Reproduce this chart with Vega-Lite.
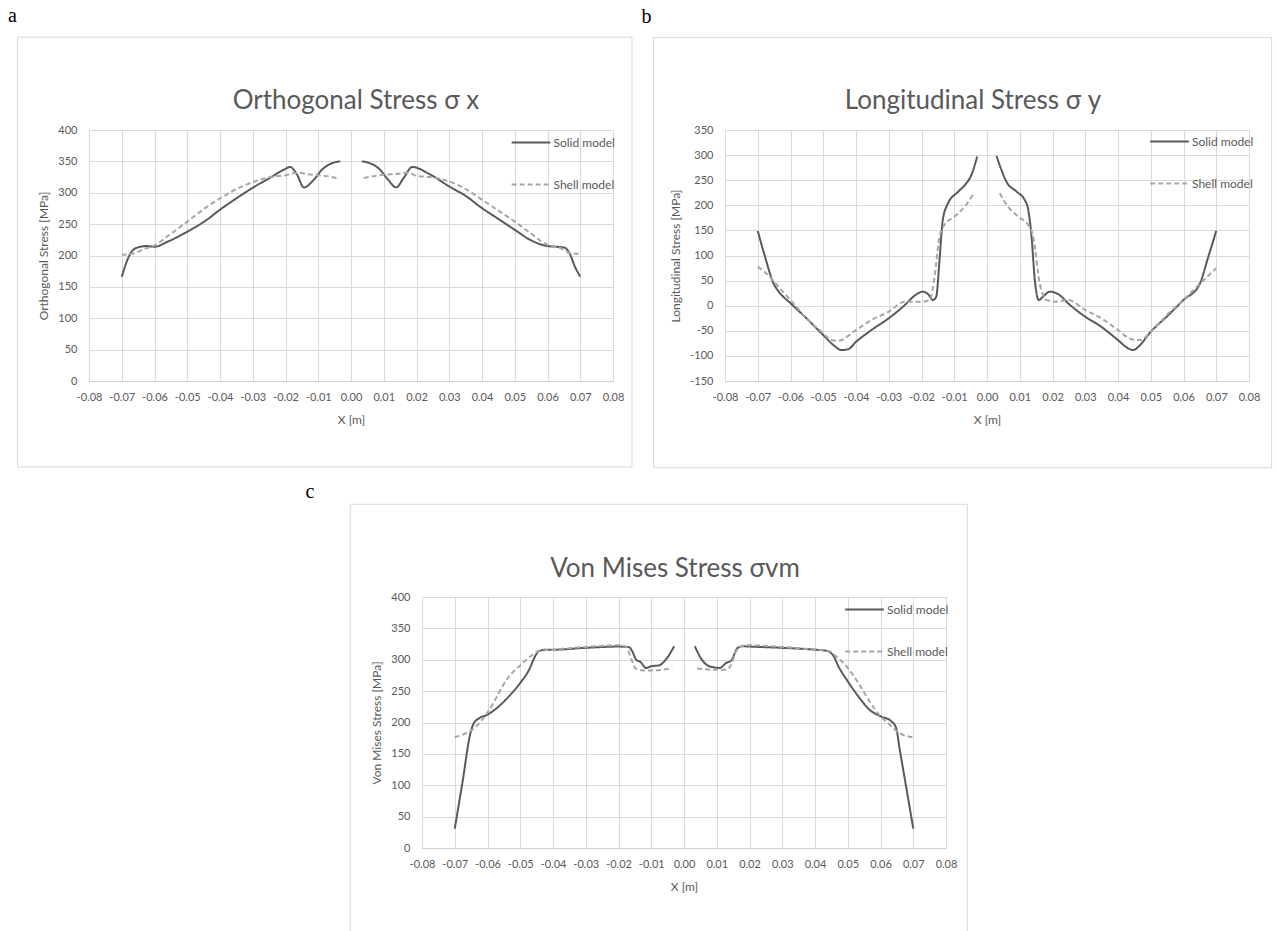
{
  "$schema": "https://vega.github.io/schema/vega-lite/v6.json",
  "background": "white",
  "padding": {"left": 8, "top": 6, "right": 0, "bottom": 0},
  "datasets": {
    "sx": [
      {"m": "Solid model", "s": "L", "x": -0.07, "y": 166}, {"m": "Solid model", "s": "L", "x": -0.0685, "y": 190}, {"m": "Solid model", "s": "L", "x": -0.067, "y": 206}, {"m": "Solid model", "s": "L", "x": -0.065, "y": 213}, {"m": "Solid model", "s": "L", "x": -0.0625, "y": 215}, {"m": "Solid model", "s": "L", "x": -0.06, "y": 214}, {"m": "Solid model", "s": "L", "x": -0.056, "y": 222}, {"m": "Solid model", "s": "L", "x": -0.05, "y": 238}, {"m": "Solid model", "s": "L", "x": -0.044, "y": 257}, {"m": "Solid model", "s": "L", "x": -0.04, "y": 273}, {"m": "Solid model", "s": "L", "x": -0.035, "y": 291}, {"m": "Solid model", "s": "L", "x": -0.03, "y": 308}, {"m": "Solid model", "s": "L", "x": -0.025, "y": 323}, {"m": "Solid model", "s": "L", "x": -0.02, "y": 338}, {"m": "Solid model", "s": "L", "x": -0.0186, "y": 341}, {"m": "Solid model", "s": "L", "x": -0.0165, "y": 329}, {"m": "Solid model", "s": "L", "x": -0.0144, "y": 308.5}, {"m": "Solid model", "s": "L", "x": -0.0113, "y": 321}, {"m": "Solid model", "s": "L", "x": -0.0088, "y": 337}, {"m": "Solid model", "s": "L", "x": -0.0053, "y": 348}, {"m": "Solid model", "s": "L", "x": -0.0033, "y": 350},
      {"m": "Solid model", "s": "R", "x": 0.0033, "y": 350}, {"m": "Solid model", "s": "R", "x": 0.0053, "y": 348}, {"m": "Solid model", "s": "R", "x": 0.0088, "y": 337}, {"m": "Solid model", "s": "R", "x": 0.0113, "y": 321}, {"m": "Solid model", "s": "R", "x": 0.0138, "y": 308.5}, {"m": "Solid model", "s": "R", "x": 0.016, "y": 323}, {"m": "Solid model", "s": "R", "x": 0.0187, "y": 341}, {"m": "Solid model", "s": "R", "x": 0.0242, "y": 329}, {"m": "Solid model", "s": "R", "x": 0.03, "y": 310}, {"m": "Solid model", "s": "R", "x": 0.0353, "y": 294}, {"m": "Solid model", "s": "R", "x": 0.04, "y": 275.5}, {"m": "Solid model", "s": "R", "x": 0.0446, "y": 259.6}, {"m": "Solid model", "s": "R", "x": 0.05, "y": 241}, {"m": "Solid model", "s": "R", "x": 0.0547, "y": 225}, {"m": "Solid model", "s": "R", "x": 0.06, "y": 215}, {"m": "Solid model", "s": "R", "x": 0.0625, "y": 214}, {"m": "Solid model", "s": "R", "x": 0.065, "y": 212.8}, {"m": "Solid model", "s": "R", "x": 0.0667, "y": 204}, {"m": "Solid model", "s": "R", "x": 0.0684, "y": 182}, {"m": "Solid model", "s": "R", "x": 0.07, "y": 166.5},
      {"m": "Shell model", "s": "L", "x": -0.07, "y": 201}, {"m": "Shell model", "s": "L", "x": -0.0665, "y": 203}, {"m": "Shell model", "s": "L", "x": -0.0634, "y": 210}, {"m": "Shell model", "s": "L", "x": -0.06, "y": 216}, {"m": "Shell model", "s": "L", "x": -0.0562, "y": 230}, {"m": "Shell model", "s": "L", "x": -0.05, "y": 254}, {"m": "Shell model", "s": "L", "x": -0.0441, "y": 277}, {"m": "Shell model", "s": "L", "x": -0.04, "y": 291}, {"m": "Shell model", "s": "L", "x": -0.0349, "y": 306}, {"m": "Shell model", "s": "L", "x": -0.03, "y": 317}, {"m": "Shell model", "s": "L", "x": -0.0247, "y": 325}, {"m": "Shell model", "s": "L", "x": -0.02, "y": 328}, {"m": "Shell model", "s": "L", "x": -0.0165, "y": 332}, {"m": "Shell model", "s": "L", "x": -0.0125, "y": 329}, {"m": "Shell model", "s": "L", "x": -0.01, "y": 328}, {"m": "Shell model", "s": "L", "x": -0.0073, "y": 326.5}, {"m": "Shell model", "s": "L", "x": -0.0043, "y": 323.4},
      {"m": "Shell model", "s": "R", "x": 0.0039, "y": 323.4}, {"m": "Shell model", "s": "R", "x": 0.007, "y": 326.5}, {"m": "Shell model", "s": "R", "x": 0.01, "y": 328.5}, {"m": "Shell model", "s": "R", "x": 0.0141, "y": 330}, {"m": "Shell model", "s": "R", "x": 0.0175, "y": 332}, {"m": "Shell model", "s": "R", "x": 0.02, "y": 327}, {"m": "Shell model", "s": "R", "x": 0.0243, "y": 325}, {"m": "Shell model", "s": "R", "x": 0.03, "y": 318}, {"m": "Shell model", "s": "R", "x": 0.0353, "y": 305}, {"m": "Shell model", "s": "R", "x": 0.04, "y": 289}, {"m": "Shell model", "s": "R", "x": 0.0446, "y": 273}, {"m": "Shell model", "s": "R", "x": 0.05, "y": 254}, {"m": "Shell model", "s": "R", "x": 0.0547, "y": 236}, {"m": "Shell model", "s": "R", "x": 0.06, "y": 217}, {"m": "Shell model", "s": "R", "x": 0.0639, "y": 212}, {"m": "Shell model", "s": "R", "x": 0.0669, "y": 204}, {"m": "Shell model", "s": "R", "x": 0.07, "y": 202.7}
    ],
    "sy": [
      {"m": "Solid model", "s": "L", "x": -0.07, "y": 149}, {"m": "Solid model", "s": "L", "x": -0.0678, "y": 98}, {"m": "Solid model", "s": "L", "x": -0.0652, "y": 44.5}, {"m": "Solid model", "s": "L", "x": -0.0637, "y": 29}, {"m": "Solid model", "s": "L", "x": -0.06, "y": 5}, {"m": "Solid model", "s": "L", "x": -0.0556, "y": -22}, {"m": "Solid model", "s": "L", "x": -0.05, "y": -58.5}, {"m": "Solid model", "s": "L", "x": -0.0466, "y": -80}, {"m": "Solid model", "s": "L", "x": -0.0445, "y": -88.4}, {"m": "Solid model", "s": "L", "x": -0.0425, "y": -87}, {"m": "Solid model", "s": "L", "x": -0.04, "y": -72}, {"m": "Solid model", "s": "L", "x": -0.0353, "y": -48.5}, {"m": "Solid model", "s": "L", "x": -0.03, "y": -25}, {"m": "Solid model", "s": "L", "x": -0.0251, "y": 1.3}, {"m": "Solid model", "s": "L", "x": -0.0221, "y": 20}, {"m": "Solid model", "s": "L", "x": -0.0195, "y": 28}, {"m": "Solid model", "s": "L", "x": -0.018, "y": 23}, {"m": "Solid model", "s": "L", "x": -0.0165, "y": 11.3}, {"m": "Solid model", "s": "L", "x": -0.0155, "y": 18}, {"m": "Solid model", "s": "L", "x": -0.0145, "y": 91}, {"m": "Solid model", "s": "L", "x": -0.0135, "y": 171}, {"m": "Solid model", "s": "L", "x": -0.0119, "y": 204}, {"m": "Solid model", "s": "L", "x": -0.0088, "y": 227}, {"m": "Solid model", "s": "L", "x": -0.0063, "y": 244}, {"m": "Solid model", "s": "L", "x": -0.005, "y": 257}, {"m": "Solid model", "s": "L", "x": -0.003, "y": 297},
      {"m": "Solid model", "s": "R", "x": 0.0029, "y": 298.5}, {"m": "Solid model", "s": "R", "x": 0.0044, "y": 270.6}, {"m": "Solid model", "s": "R", "x": 0.0059, "y": 247.3}, {"m": "Solid model", "s": "R", "x": 0.009, "y": 227.4}, {"m": "Solid model", "s": "R", "x": 0.0115, "y": 210.8}, {"m": "Solid model", "s": "R", "x": 0.0126, "y": 190.8}, {"m": "Solid model", "s": "R", "x": 0.0136, "y": 137.6}, {"m": "Solid model", "s": "R", "x": 0.0146, "y": 51}, {"m": "Solid model", "s": "R", "x": 0.0158, "y": 11.3}, {"m": "Solid model", "s": "R", "x": 0.0171, "y": 18}, {"m": "Solid model", "s": "R", "x": 0.0192, "y": 28}, {"m": "Solid model", "s": "R", "x": 0.0222, "y": 21}, {"m": "Solid model", "s": "R", "x": 0.0248, "y": 4.7}, {"m": "Solid model", "s": "R", "x": 0.03, "y": -22}, {"m": "Solid model", "s": "R", "x": 0.0349, "y": -42}, {"m": "Solid model", "s": "R", "x": 0.04, "y": -68.5}, {"m": "Solid model", "s": "R", "x": 0.0431, "y": -85}, {"m": "Solid model", "s": "R", "x": 0.0447, "y": -88.4}, {"m": "Solid model", "s": "R", "x": 0.0462, "y": -81.8}, {"m": "Solid model", "s": "R", "x": 0.05, "y": -51.9}, {"m": "Solid model", "s": "R", "x": 0.0554, "y": -18.6}, {"m": "Solid model", "s": "R", "x": 0.06, "y": 11.3}, {"m": "Solid model", "s": "R", "x": 0.0648, "y": 41.2}, {"m": "Solid model", "s": "R", "x": 0.0676, "y": 98}, {"m": "Solid model", "s": "R", "x": 0.07, "y": 149},
      {"m": "Shell model", "s": "L", "x": -0.07, "y": 77.8}, {"m": "Shell model", "s": "L", "x": -0.0668, "y": 61}, {"m": "Shell model", "s": "L", "x": -0.0637, "y": 38}, {"m": "Shell model", "s": "L", "x": -0.06, "y": 11.3}, {"m": "Shell model", "s": "L", "x": -0.0546, "y": -28.6}, {"m": "Shell model", "s": "L", "x": -0.05, "y": -55}, {"m": "Shell model", "s": "L", "x": -0.0476, "y": -68.5}, {"m": "Shell model", "s": "L", "x": -0.0455, "y": -70}, {"m": "Shell model", "s": "L", "x": -0.04, "y": -48.5}, {"m": "Shell model", "s": "L", "x": -0.0353, "y": -28.6}, {"m": "Shell model", "s": "L", "x": -0.03, "y": -12}, {"m": "Shell model", "s": "L", "x": -0.0251, "y": 8}, {"m": "Shell model", "s": "L", "x": -0.02, "y": 8}, {"m": "Shell model", "s": "L", "x": -0.0175, "y": 11.3}, {"m": "Shell model", "s": "L", "x": -0.016, "y": 58}, {"m": "Shell model", "s": "L", "x": -0.0145, "y": 137.6}, {"m": "Shell model", "s": "L", "x": -0.013, "y": 161}, {"m": "Shell model", "s": "L", "x": -0.0099, "y": 177.5}, {"m": "Shell model", "s": "L", "x": -0.0068, "y": 197.5}, {"m": "Shell model", "s": "L", "x": -0.0041, "y": 222.7},
      {"m": "Shell model", "s": "R", "x": 0.0039, "y": 224}, {"m": "Shell model", "s": "R", "x": 0.0064, "y": 197.5}, {"m": "Shell model", "s": "R", "x": 0.0095, "y": 177.5}, {"m": "Shell model", "s": "R", "x": 0.0126, "y": 161}, {"m": "Shell model", "s": "R", "x": 0.0141, "y": 137.6}, {"m": "Shell model", "s": "R", "x": 0.0161, "y": 44.5}, {"m": "Shell model", "s": "R", "x": 0.0182, "y": 11.3}, {"m": "Shell model", "s": "R", "x": 0.0207, "y": 8}, {"m": "Shell model", "s": "R", "x": 0.0248, "y": 11.3}, {"m": "Shell model", "s": "R", "x": 0.03, "y": -8.6}, {"m": "Shell model", "s": "R", "x": 0.0349, "y": -25}, {"m": "Shell model", "s": "R", "x": 0.04, "y": -48.5}, {"m": "Shell model", "s": "R", "x": 0.0442, "y": -67}, {"m": "Shell model", "s": "R", "x": 0.0467, "y": -68.5}, {"m": "Shell model", "s": "R", "x": 0.05, "y": -52}, {"m": "Shell model", "s": "R", "x": 0.0554, "y": -15.3}, {"m": "Shell model", "s": "R", "x": 0.06, "y": 11.3}, {"m": "Shell model", "s": "R", "x": 0.0646, "y": 41.2}, {"m": "Shell model", "s": "R", "x": 0.07, "y": 74.5}
    ],
    "svm": [
      {"m": "Solid model", "s": "L", "x": -0.07, "y": 31}, {"m": "Solid model", "s": "L", "x": -0.0676, "y": 106}, {"m": "Solid model", "s": "L", "x": -0.0653, "y": 181}, {"m": "Solid model", "s": "L", "x": -0.0643, "y": 197.7}, {"m": "Solid model", "s": "L", "x": -0.0625, "y": 207}, {"m": "Solid model", "s": "L", "x": -0.06, "y": 212.5}, {"m": "Solid model", "s": "L", "x": -0.0565, "y": 226}, {"m": "Solid model", "s": "L", "x": -0.0534, "y": 242}, {"m": "Solid model", "s": "L", "x": -0.05, "y": 263}, {"m": "Solid model", "s": "L", "x": -0.0474, "y": 283}, {"m": "Solid model", "s": "L", "x": -0.0452, "y": 308}, {"m": "Solid model", "s": "L", "x": -0.0444, "y": 313.5}, {"m": "Solid model", "s": "L", "x": -0.0422, "y": 316}, {"m": "Solid model", "s": "L", "x": -0.04, "y": 316}, {"m": "Solid model", "s": "L", "x": -0.03, "y": 319}, {"m": "Solid model", "s": "L", "x": -0.02, "y": 321}, {"m": "Solid model", "s": "L", "x": -0.0168, "y": 320}, {"m": "Solid model", "s": "L", "x": -0.0158, "y": 313.5}, {"m": "Solid model", "s": "L", "x": -0.0146, "y": 300}, {"m": "Solid model", "s": "L", "x": -0.0133, "y": 296.5}, {"m": "Solid model", "s": "L", "x": -0.0116, "y": 287}, {"m": "Solid model", "s": "L", "x": -0.01, "y": 289.6}, {"m": "Solid model", "s": "L", "x": -0.0077, "y": 291}, {"m": "Solid model", "s": "L", "x": -0.0056, "y": 300}, {"m": "Solid model", "s": "L", "x": -0.003, "y": 321.5},
      {"m": "Solid model", "s": "R", "x": 0.0033, "y": 321.5}, {"m": "Solid model", "s": "R", "x": 0.0058, "y": 297.6}, {"m": "Solid model", "s": "R", "x": 0.0078, "y": 289.6}, {"m": "Solid model", "s": "R", "x": 0.0109, "y": 287}, {"m": "Solid model", "s": "R", "x": 0.0129, "y": 295}, {"m": "Solid model", "s": "R", "x": 0.0144, "y": 298.6}, {"m": "Solid model", "s": "R", "x": 0.0164, "y": 319}, {"m": "Solid model", "s": "R", "x": 0.018, "y": 321.5}, {"m": "Solid model", "s": "R", "x": 0.02, "y": 321}, {"m": "Solid model", "s": "R", "x": 0.03, "y": 319}, {"m": "Solid model", "s": "R", "x": 0.04, "y": 316}, {"m": "Solid model", "s": "R", "x": 0.0434, "y": 314.5}, {"m": "Solid model", "s": "R", "x": 0.0454, "y": 308}, {"m": "Solid model", "s": "R", "x": 0.0474, "y": 287}, {"m": "Solid model", "s": "R", "x": 0.05, "y": 265.7}, {"m": "Solid model", "s": "R", "x": 0.0536, "y": 239}, {"m": "Solid model", "s": "R", "x": 0.0566, "y": 220.5}, {"m": "Solid model", "s": "R", "x": 0.06, "y": 210}, {"m": "Solid model", "s": "R", "x": 0.0633, "y": 202}, {"m": "Solid model", "s": "R", "x": 0.0648, "y": 191}, {"m": "Solid model", "s": "R", "x": 0.0658, "y": 159.4}, {"m": "Solid model", "s": "R", "x": 0.0679, "y": 95.6}, {"m": "Solid model", "s": "R", "x": 0.07, "y": 31},
      {"m": "Shell model", "s": "L", "x": -0.07, "y": 176.4}, {"m": "Shell model", "s": "L", "x": -0.0665, "y": 183}, {"m": "Shell model", "s": "L", "x": -0.064, "y": 191}, {"m": "Shell model", "s": "L", "x": -0.06, "y": 216}, {"m": "Shell model", "s": "L", "x": -0.0534, "y": 273.6}, {"m": "Shell model", "s": "L", "x": -0.05, "y": 291}, {"m": "Shell model", "s": "L", "x": -0.0469, "y": 305.5}, {"m": "Shell model", "s": "L", "x": -0.0444, "y": 313.5}, {"m": "Shell model", "s": "L", "x": -0.04, "y": 316}, {"m": "Shell model", "s": "L", "x": -0.03, "y": 320.4}, {"m": "Shell model", "s": "L", "x": -0.02, "y": 323}, {"m": "Shell model", "s": "L", "x": -0.0178, "y": 321.5}, {"m": "Shell model", "s": "L", "x": -0.0158, "y": 297.6}, {"m": "Shell model", "s": "L", "x": -0.0148, "y": 286}, {"m": "Shell model", "s": "L", "x": -0.0118, "y": 282.7}, {"m": "Shell model", "s": "L", "x": -0.0067, "y": 284}, {"m": "Shell model", "s": "L", "x": -0.0036, "y": 286},
      {"m": "Shell model", "s": "R", "x": 0.004, "y": 286}, {"m": "Shell model", "s": "R", "x": 0.0098, "y": 284}, {"m": "Shell model", "s": "R", "x": 0.0129, "y": 284}, {"m": "Shell model", "s": "R", "x": 0.0144, "y": 292}, {"m": "Shell model", "s": "R", "x": 0.0159, "y": 313.5}, {"m": "Shell model", "s": "R", "x": 0.018, "y": 322.5}, {"m": "Shell model", "s": "R", "x": 0.02, "y": 323}, {"m": "Shell model", "s": "R", "x": 0.03, "y": 320.4}, {"m": "Shell model", "s": "R", "x": 0.04, "y": 316}, {"m": "Shell model", "s": "R", "x": 0.0444, "y": 313.5}, {"m": "Shell model", "s": "R", "x": 0.0464, "y": 305.5}, {"m": "Shell model", "s": "R", "x": 0.05, "y": 287}, {"m": "Shell model", "s": "R", "x": 0.0536, "y": 260}, {"m": "Shell model", "s": "R", "x": 0.0566, "y": 234}, {"m": "Shell model", "s": "R", "x": 0.06, "y": 210}, {"m": "Shell model", "s": "R", "x": 0.0628, "y": 196.6}, {"m": "Shell model", "s": "R", "x": 0.0658, "y": 183}, {"m": "Shell model", "s": "R", "x": 0.07, "y": 176.4}
    ]
  },
  "spacing": 13,
  "resolve": {"scale": {"color": "independent", "strokeDash": "independent"}, "legend": {"color": "independent", "strokeDash": "independent"}},
  "vconcat": [
    {
      "spacing": 8,
      "resolve": {"scale": {"color": "independent", "strokeDash": "independent"}, "legend": {"color": "independent", "strokeDash": "independent"}},
      "hconcat": [
        {
          "width": 524, "height": 251,
          "title": {"text": "Orthogonal Stress σ x", "offset": -108, "dx": 5},
          "layer": [
            {"data": {"values": [{"f": 1}]}, "mark": {"type": "rect", "filled": false, "stroke": "#d9d9d9", "strokeWidth": 1},
             "encoding": {
               "x": {"datum": -0.1018, "type": "quantitative", "scale": {"domain": [-0.08, 0.08], "nice": false, "zero": false}, "axis": {"title": "X [m]", "values": [-0.08, -0.07, -0.06, -0.05, -0.04, -0.03, -0.02, -0.01, 0, 0.01, 0.02, 0.03, 0.04, 0.05, 0.06, 0.07, 0.08], "labelExpr": "replace(format(datum.value, '.2f'), '−', '-')"}},
               "x2": {"datum": 0.0858},
               "y": {"datum": 548, "type": "quantitative", "scale": {"domain": [0, 400], "nice": false, "zero": false}, "axis": {"title": "Orthogonal Stress [MPa]", "values": [0, 50, 100, 150, 200, 250, 300, 350, 400]}},
               "y2": {"datum": -137}}},
            {"data": {"values": [{"f": 1}]}, "mark": {"type": "text", "text": "a", "font": "Liberation Serif", "fontSize": 20, "align": "left", "baseline": "alphabetic", "color": "black"},
             "encoding": {
               "x": {"datum": -0.1047, "type": "quantitative", "scale": {"domain": [-0.08, 0.08], "nice": false, "zero": false}, "axis": {"title": "X [m]", "values": [-0.08, -0.07, -0.06, -0.05, -0.04, -0.03, -0.02, -0.01, 0, 0.01, 0.02, 0.03, 0.04, 0.05, 0.06, 0.07, 0.08], "labelExpr": "replace(format(datum.value, '.2f'), '−', '-')"}},
               "y": {"datum": 572, "type": "quantitative", "scale": {"domain": [0, 400], "nice": false, "zero": false}, "axis": {"title": "Orthogonal Stress [MPa]", "values": [0, 50, 100, 150, 200, 250, 300, 350, 400]}}}},
            {"data": {"name": "sx"}, "mark": {"type": "line", "interpolate": "monotone", "strokeWidth": 2},
             "encoding": {
               "x": {"field": "x", "type": "quantitative", "scale": {"domain": [-0.08, 0.08], "nice": false, "zero": false}, "axis": {"title": "X [m]", "values": [-0.08, -0.07, -0.06, -0.05, -0.04, -0.03, -0.02, -0.01, 0, 0.01, 0.02, 0.03, 0.04, 0.05, 0.06, 0.07, 0.08], "labelExpr": "replace(format(datum.value, '.2f'), '−', '-')"}},
               "y": {"field": "y", "type": "quantitative", "scale": {"domain": [0, 400], "nice": false, "zero": false}, "axis": {"title": "Orthogonal Stress [MPa]", "values": [0, 50, 100, 150, 200, 250, 300, 350, 400]}},
               "color": {"field": "m", "type": "nominal", "scale": {"domain": ["Solid model", "Shell model"], "range": ["#595959", "#a6a6a6"]}, "legend": {"title": null, "orient": "none", "legendX": 421.5, "legendY": -8}},
               "strokeDash": {"field": "m", "type": "nominal", "scale": {"domain": ["Solid model", "Shell model"], "range": [[1, 0], [5, 3]]}, "legend": {"title": null, "orient": "none", "legendX": 421.5, "legendY": -8}},
               "detail": {"field": "s"}}}
          ]
        },
        {
          "width": 524, "height": 251,
          "title": {"text": "Longitudinal Stress σ y", "offset": -107, "dx": -14},
          "layer": [
            {"data": {"values": [{"f": 1}]}, "mark": {"type": "rect", "filled": false, "stroke": "#d9d9d9", "strokeWidth": 1},
             "encoding": {
               "x": {"datum": -0.1018, "type": "quantitative", "scale": {"domain": [-0.08, 0.08], "nice": false, "zero": false}, "axis": {"title": "X [m]", "values": [-0.08, -0.07, -0.06, -0.05, -0.04, -0.03, -0.02, -0.01, 0, 0.01, 0.02, 0.03, 0.04, 0.05, 0.06, 0.07, 0.08], "labelExpr": "replace(format(datum.value, '.2f'), '−', '-')"}},
               "x2": {"datum": 0.0869},
               "y": {"datum": 533.9, "type": "quantitative", "scale": {"domain": [-150, 350], "nice": false, "zero": false}, "axis": {"title": "Longitudinal Stress [MPa]", "values": [-150, -100, -50, 0, 50, 100, 150, 200, 250, 300, 350], "labelExpr": "replace(format(datum.value, 'd'), '−', '-')"}},
               "y2": {"datum": -322.7}}},
            {"data": {"values": [{"f": 1}]}, "mark": {"type": "text", "text": "b", "font": "Liberation Serif", "fontSize": 20, "align": "left", "baseline": "alphabetic", "color": "black"},
             "encoding": {
               "x": {"datum": -0.1055, "type": "quantitative", "scale": {"domain": [-0.08, 0.08], "nice": false, "zero": false}, "axis": {"title": "X [m]", "values": [-0.08, -0.07, -0.06, -0.05, -0.04, -0.03, -0.02, -0.01, 0, 0.01, 0.02, 0.03, 0.04, 0.05, 0.06, 0.07, 0.08], "labelExpr": "replace(format(datum.value, '.2f'), '−', '-')"}},
               "y": {"datum": 563.7, "type": "quantitative", "scale": {"domain": [-150, 350], "nice": false, "zero": false}, "axis": {"title": "Longitudinal Stress [MPa]", "values": [-150, -100, -50, 0, 50, 100, 150, 200, 250, 300, 350], "labelExpr": "replace(format(datum.value, 'd'), '−', '-')"}}}},
            {"data": {"name": "sy"}, "mark": {"type": "line", "interpolate": "monotone", "strokeWidth": 2},
             "encoding": {
               "x": {"field": "x", "type": "quantitative", "scale": {"domain": [-0.08, 0.08], "nice": false, "zero": false}, "axis": {"title": "X [m]", "values": [-0.08, -0.07, -0.06, -0.05, -0.04, -0.03, -0.02, -0.01, 0, 0.01, 0.02, 0.03, 0.04, 0.05, 0.06, 0.07, 0.08], "labelExpr": "replace(format(datum.value, '.2f'), '−', '-')"}},
               "y": {"field": "y", "type": "quantitative", "scale": {"domain": [-150, 350], "nice": false, "zero": false}, "axis": {"title": "Longitudinal Stress [MPa]", "values": [-150, -100, -50, 0, 50, 100, 150, 200, 250, 300, 350], "labelExpr": "replace(format(datum.value, 'd'), '−', '-')"}},
               "color": {"field": "m", "type": "nominal", "scale": {"domain": ["Solid model", "Shell model"], "range": ["#595959", "#a6a6a6"]}, "legend": {"title": null, "orient": "none", "legendX": 424, "legendY": -9}},
               "strokeDash": {"field": "m", "type": "nominal", "scale": {"domain": ["Solid model", "Shell model"], "range": [[1, 0], [5, 3]]}, "legend": {"title": null, "orient": "none", "legendX": 424, "legendY": -9}},
               "detail": {"field": "s"}}}
          ]
        }
      ]
    },
    {
      "spacing": 0,
      "resolve": {"scale": {"color": "independent", "strokeDash": "independent"}, "legend": {"color": "independent", "strokeDash": "independent"}},
      "hconcat": [
        {"width": 216, "height": 1, "data": {"values": []}, "mark": "point"},
        {
          "width": 524, "height": 251,
          "title": {"text": "Von Mises Stress σvm", "offset": -100, "dx": -9},
          "layer": [
            {"data": {"values": [{"f": 1}]}, "mark": {"type": "rect", "filled": false, "stroke": "#d9d9d9", "strokeWidth": 1},
             "encoding": {
               "x": {"datum": -0.1019, "type": "quantitative", "scale": {"domain": [-0.08, 0.08], "nice": false, "zero": false}, "axis": {"title": "X [m]", "values": [-0.08, -0.07, -0.06, -0.05, -0.04, -0.03, -0.02, -0.01, 0, 0.01, 0.02, 0.03, 0.04, 0.05, 0.06, 0.07, 0.08], "labelExpr": "replace(format(datum.value, '.2f'), '−', '-')"}},
               "x2": {"datum": 0.0865},
               "y": {"datum": 547.7, "type": "quantitative", "scale": {"domain": [0, 400], "nice": false, "zero": false}, "axis": {"title": "Von Mises Stress [MPa]", "values": [0, 50, 100, 150, 200, 250, 300, 350, 400]}},
               "y2": {"datum": -148.7}}},
            {"data": {"values": [{"f": 1}]}, "mark": {"type": "text", "text": "c", "font": "Liberation Serif", "fontSize": 20, "align": "left", "baseline": "alphabetic", "color": "black"},
             "encoding": {
               "x": {"datum": -0.1156, "type": "quantitative", "scale": {"domain": [-0.08, 0.08], "nice": false, "zero": false}, "axis": {"title": "X [m]", "values": [-0.08, -0.07, -0.06, -0.05, -0.04, -0.03, -0.02, -0.01, 0, 0.01, 0.02, 0.03, 0.04, 0.05, 0.06, 0.07, 0.08], "labelExpr": "replace(format(datum.value, '.2f'), '−', '-')"}},
               "y": {"datum": 557.3, "type": "quantitative", "scale": {"domain": [0, 400], "nice": false, "zero": false}, "axis": {"title": "Von Mises Stress [MPa]", "values": [0, 50, 100, 150, 200, 250, 300, 350, 400]}}}},
            {"data": {"name": "svm"}, "mark": {"type": "line", "interpolate": "monotone", "strokeWidth": 2},
             "encoding": {
               "x": {"field": "x", "type": "quantitative", "scale": {"domain": [-0.08, 0.08], "nice": false, "zero": false}, "axis": {"title": "X [m]", "values": [-0.08, -0.07, -0.06, -0.05, -0.04, -0.03, -0.02, -0.01, 0, 0.01, 0.02, 0.03, 0.04, 0.05, 0.06, 0.07, 0.08], "labelExpr": "replace(format(datum.value, '.2f'), '−', '-')"}},
               "y": {"field": "y", "type": "quantitative", "scale": {"domain": [0, 400], "nice": false, "zero": false}, "axis": {"title": "Von Mises Stress [MPa]", "values": [0, 50, 100, 150, 200, 250, 300, 350, 400]}},
               "color": {"field": "m", "type": "nominal", "scale": {"domain": ["Solid model", "Shell model"], "range": ["#595959", "#a6a6a6"]}, "legend": {"title": null, "orient": "none", "legendX": 422, "legendY": -8}},
               "strokeDash": {"field": "m", "type": "nominal", "scale": {"domain": ["Solid model", "Shell model"], "range": [[1, 0], [5, 3]]}, "legend": {"title": null, "orient": "none", "legendX": 422, "legendY": -8}},
               "detail": {"field": "s"}}}
          ]
        }
      ]
    }
  ],
  "config": {
    "font": "Lato",
    "view": {"stroke": null},
    "axis": {"labelFont": "Lato", "titleFont": "Lato", "labelColor": "#595959", "titleColor": "#595959", "labelFontSize": 11, "titleFontSize": 12, "titleFontWeight": "normal", "gridColor": "#d9d9d9", "gridWidth": 1, "domainColor": "#d0d0d0", "ticks": false, "tickSize": 0, "labelOverlap": false, "labelFlush": false, "grid": true},
    "axisX": {"labelPadding": 10, "titlePadding": 12, "domain": true},
    "axisY": {"labelPadding": 12, "titlePadding": 7, "domain": false},
    "legend": {"labelFont": "Lato", "labelFontSize": 12, "labelColor": "#595959", "symbolType": "stroke", "symbolSize": 1500, "symbolStrokeWidth": 2, "labelOffset": 2, "rowPadding": 15, "padding": 0},
    "title": {"font": "Lato", "fontSize": 26, "fontWeight": "normal", "color": "#595959", "anchor": "middle", "frame": "group", "baseline": "alphabetic"}
  }
}
